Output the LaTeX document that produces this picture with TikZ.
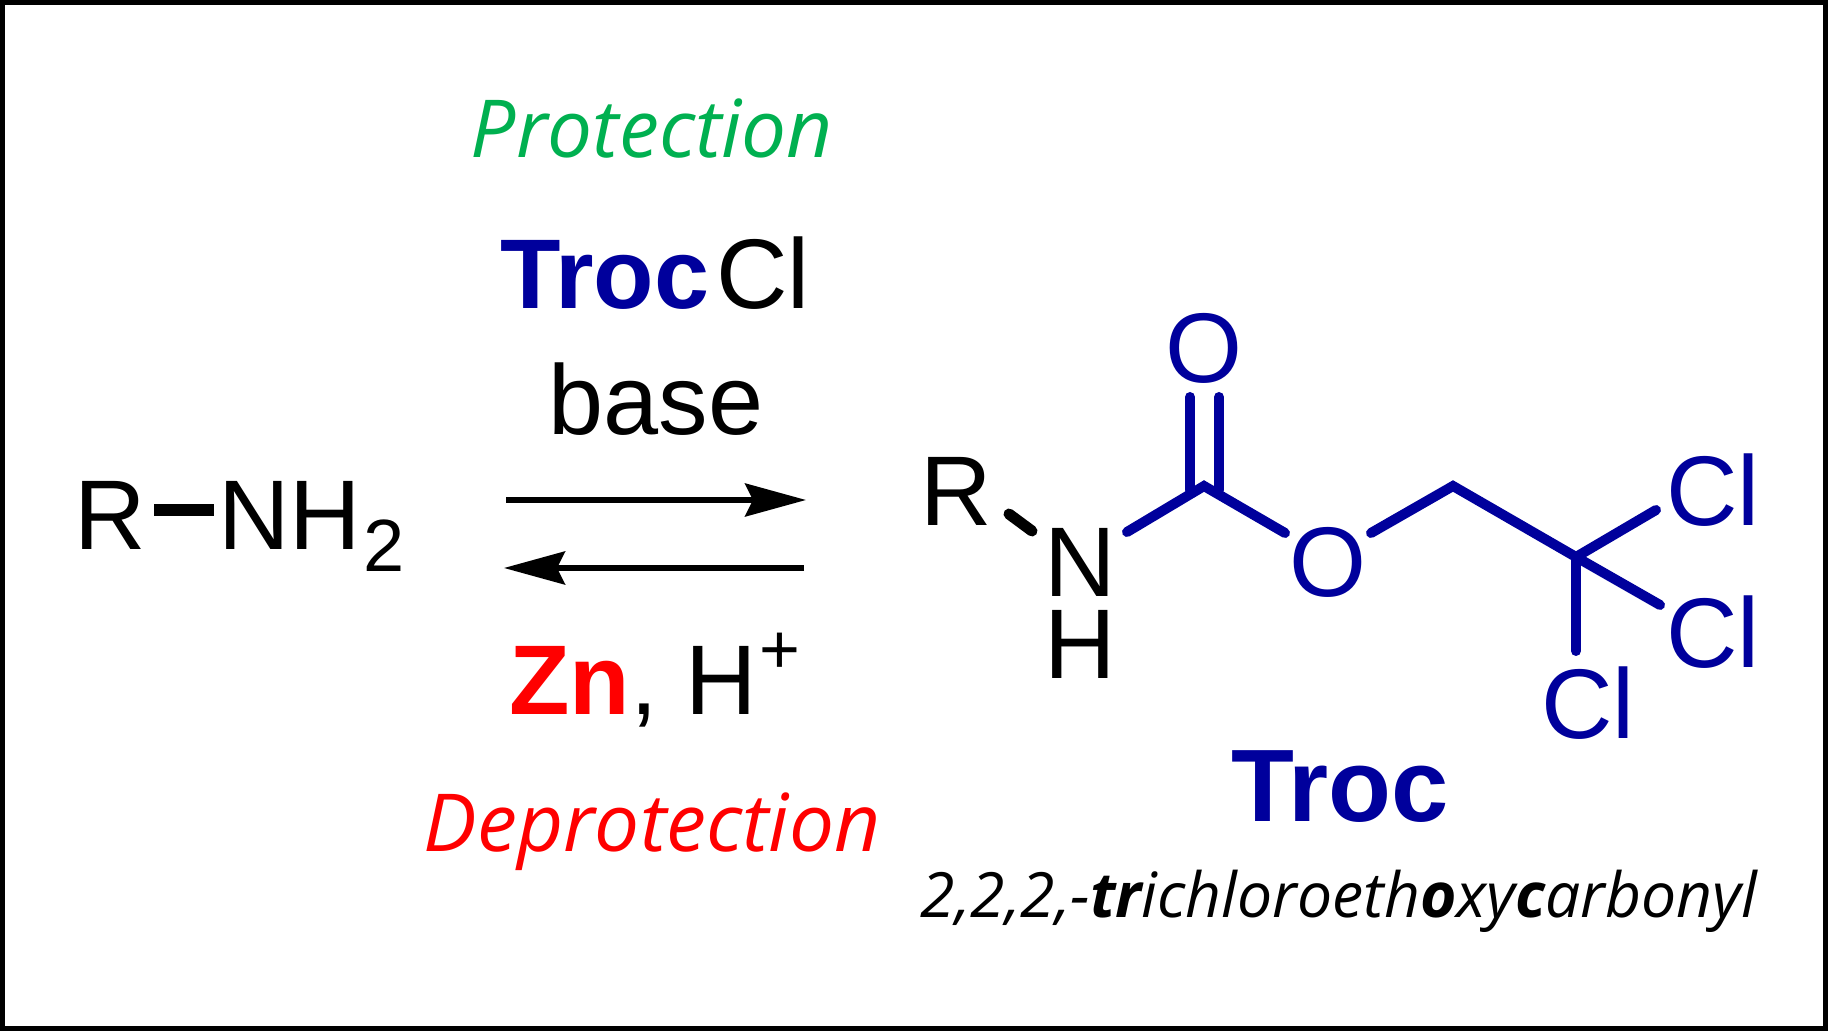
\documentclass[tikz,border=0pt]{standalone}
\usepackage{fontspec}
\setmainfont{Liberation Sans}
\newfontfamily\humfont{Open Sans}
\usetikzlibrary{arrows.meta}
\definecolor{trocblue}{HTML}{00009C}
\definecolor{protgreen}{HTML}{00B050}
\newcommand{\fsz}[1]{\fontsize{#1}{#1}\selectfont}
\tikzset{
  txt/.style={inner sep=0pt,outer sep=0pt,anchor=base,font=\fsz{49.5}},
  atomblue/.style={txt,text=trocblue},
  hum/.style={inner sep=0pt,outer sep=0pt,anchor=base,font=\humfont\itshape},
  bond/.style={line width=5pt,line cap=round,line join=miter,draw=trocblue},
  rxn/.style={line width=2.7pt,draw=black,-{Stealth[length=30.5pt,width=16.5pt,inset=4pt]}},
}
\begin{document}
\begin{tikzpicture}[x=0.5pt,y=-0.5pt]
\useasboundingbox (0,0) rectangle (1828,1031);
\draw[line width=2.5pt,draw=black,fill=white] (2.5,2.5) rectangle (1825.5,1028.5);
% labels
\node[hum,text=protgreen,font=\humfont\itshape\fsz{40}] (prot) at (652,158) {Protection};
\node[txt] (reag) at (655,309) {\textcolor{trocblue}{\textbf{Troc}}\kern3.5pt Cl};
\node[txt] (base) at (656,435) {base};
\node[txt] (zn) at (655,715) {\textcolor{red}{\textbf{Zn}}, H\kern1.5pt\raisebox{20.5pt}{\fsz{35}+}};
\node[hum,text=red,font=\humfont\itshape\fsz{40}] (deprot) at (652,852) {Deprotection};
% R-NH2
\node[txt,anchor=base west] (r) at (75,550) {R};
\node[txt,anchor=base west] (nh) at (218,550) {NH\kern1.5pt\raisebox{-11pt}{\fsz{37}2}};
\coordinate (rl) at (154,510);
\coordinate (rr) at (214,510);
\draw[line width=6pt,draw=black] (rl) -- (rr);
% arrows
\coordinate (a1) at (506,500);
\coordinate (a2) at (806,500);
\coordinate (b1) at (804,568);
\coordinate (b2) at (504,568);
\draw[rxn] (a1) -- (a2);
\draw[rxn] (b1) -- (b2);
% Troc structure
\node[txt,anchor=base west] (pr) at (920,526) {R};
\node[txt] (pn) at (1080,597) {N};
\node[txt] (ph) at (1080,679) {H};
\node[atomblue] (o1) at (1204,383) {O};
\node[atomblue] (o2) at (1328,597) {O};
\node[atomblue,anchor=base west] (cl1) at (1666,526) {Cl};
\node[atomblue,anchor=base west] (cl2) at (1666,668) {Cl};
\node[atomblue,anchor=base west] (cl3) at (1541,739) {Cl};
\coordinate (cc) at (1204,486);
\coordinate (ch) at (1453,486);
\coordinate (cq) at (1576,557);
\coordinate (bna) at (1009,514);
\coordinate (bnb) at (1032,531);
\coordinate (bnc) at (1127,532);
\coordinate (boa) at (1285,533);
\coordinate (obb) at (1371,533);
\coordinate (bcl1) at (1656,510);
\coordinate (bcl2) at (1660,605);
\coordinate (bcl3) at (1576,651);
\coordinate (d1a) at (1190,397);
\coordinate (d1b) at (1190,490);
\coordinate (d2a) at (1219,397);
\coordinate (d2b) at (1219,490);
\draw[bond,draw=black,line width=5.5pt] (bna) -- (bnb);
\draw[bond] (bnc) -- (cc) -- (boa);
\draw[bond] (obb) -- (ch) -- (cq) -- (bcl2);
\draw[bond] (cq) -- (bcl1);
\draw[bond] (cq) -- (bcl3);
\draw[bond] (d1a) -- (d1b);
\draw[bond] (d2a) -- (d2b);
% Name
\node[atomblue,font=\fsz{51.5}\bfseries] (troc) at (1340,822) {Troc};
\node[hum,font=\humfont\itshape\fsz{31.2}] (full) at (1339,918) {2,2,2,-\textbf{tr}ichloroeth\textbf{o}xy\textbf{c}arbonyl};
\end{tikzpicture}
\end{document}
